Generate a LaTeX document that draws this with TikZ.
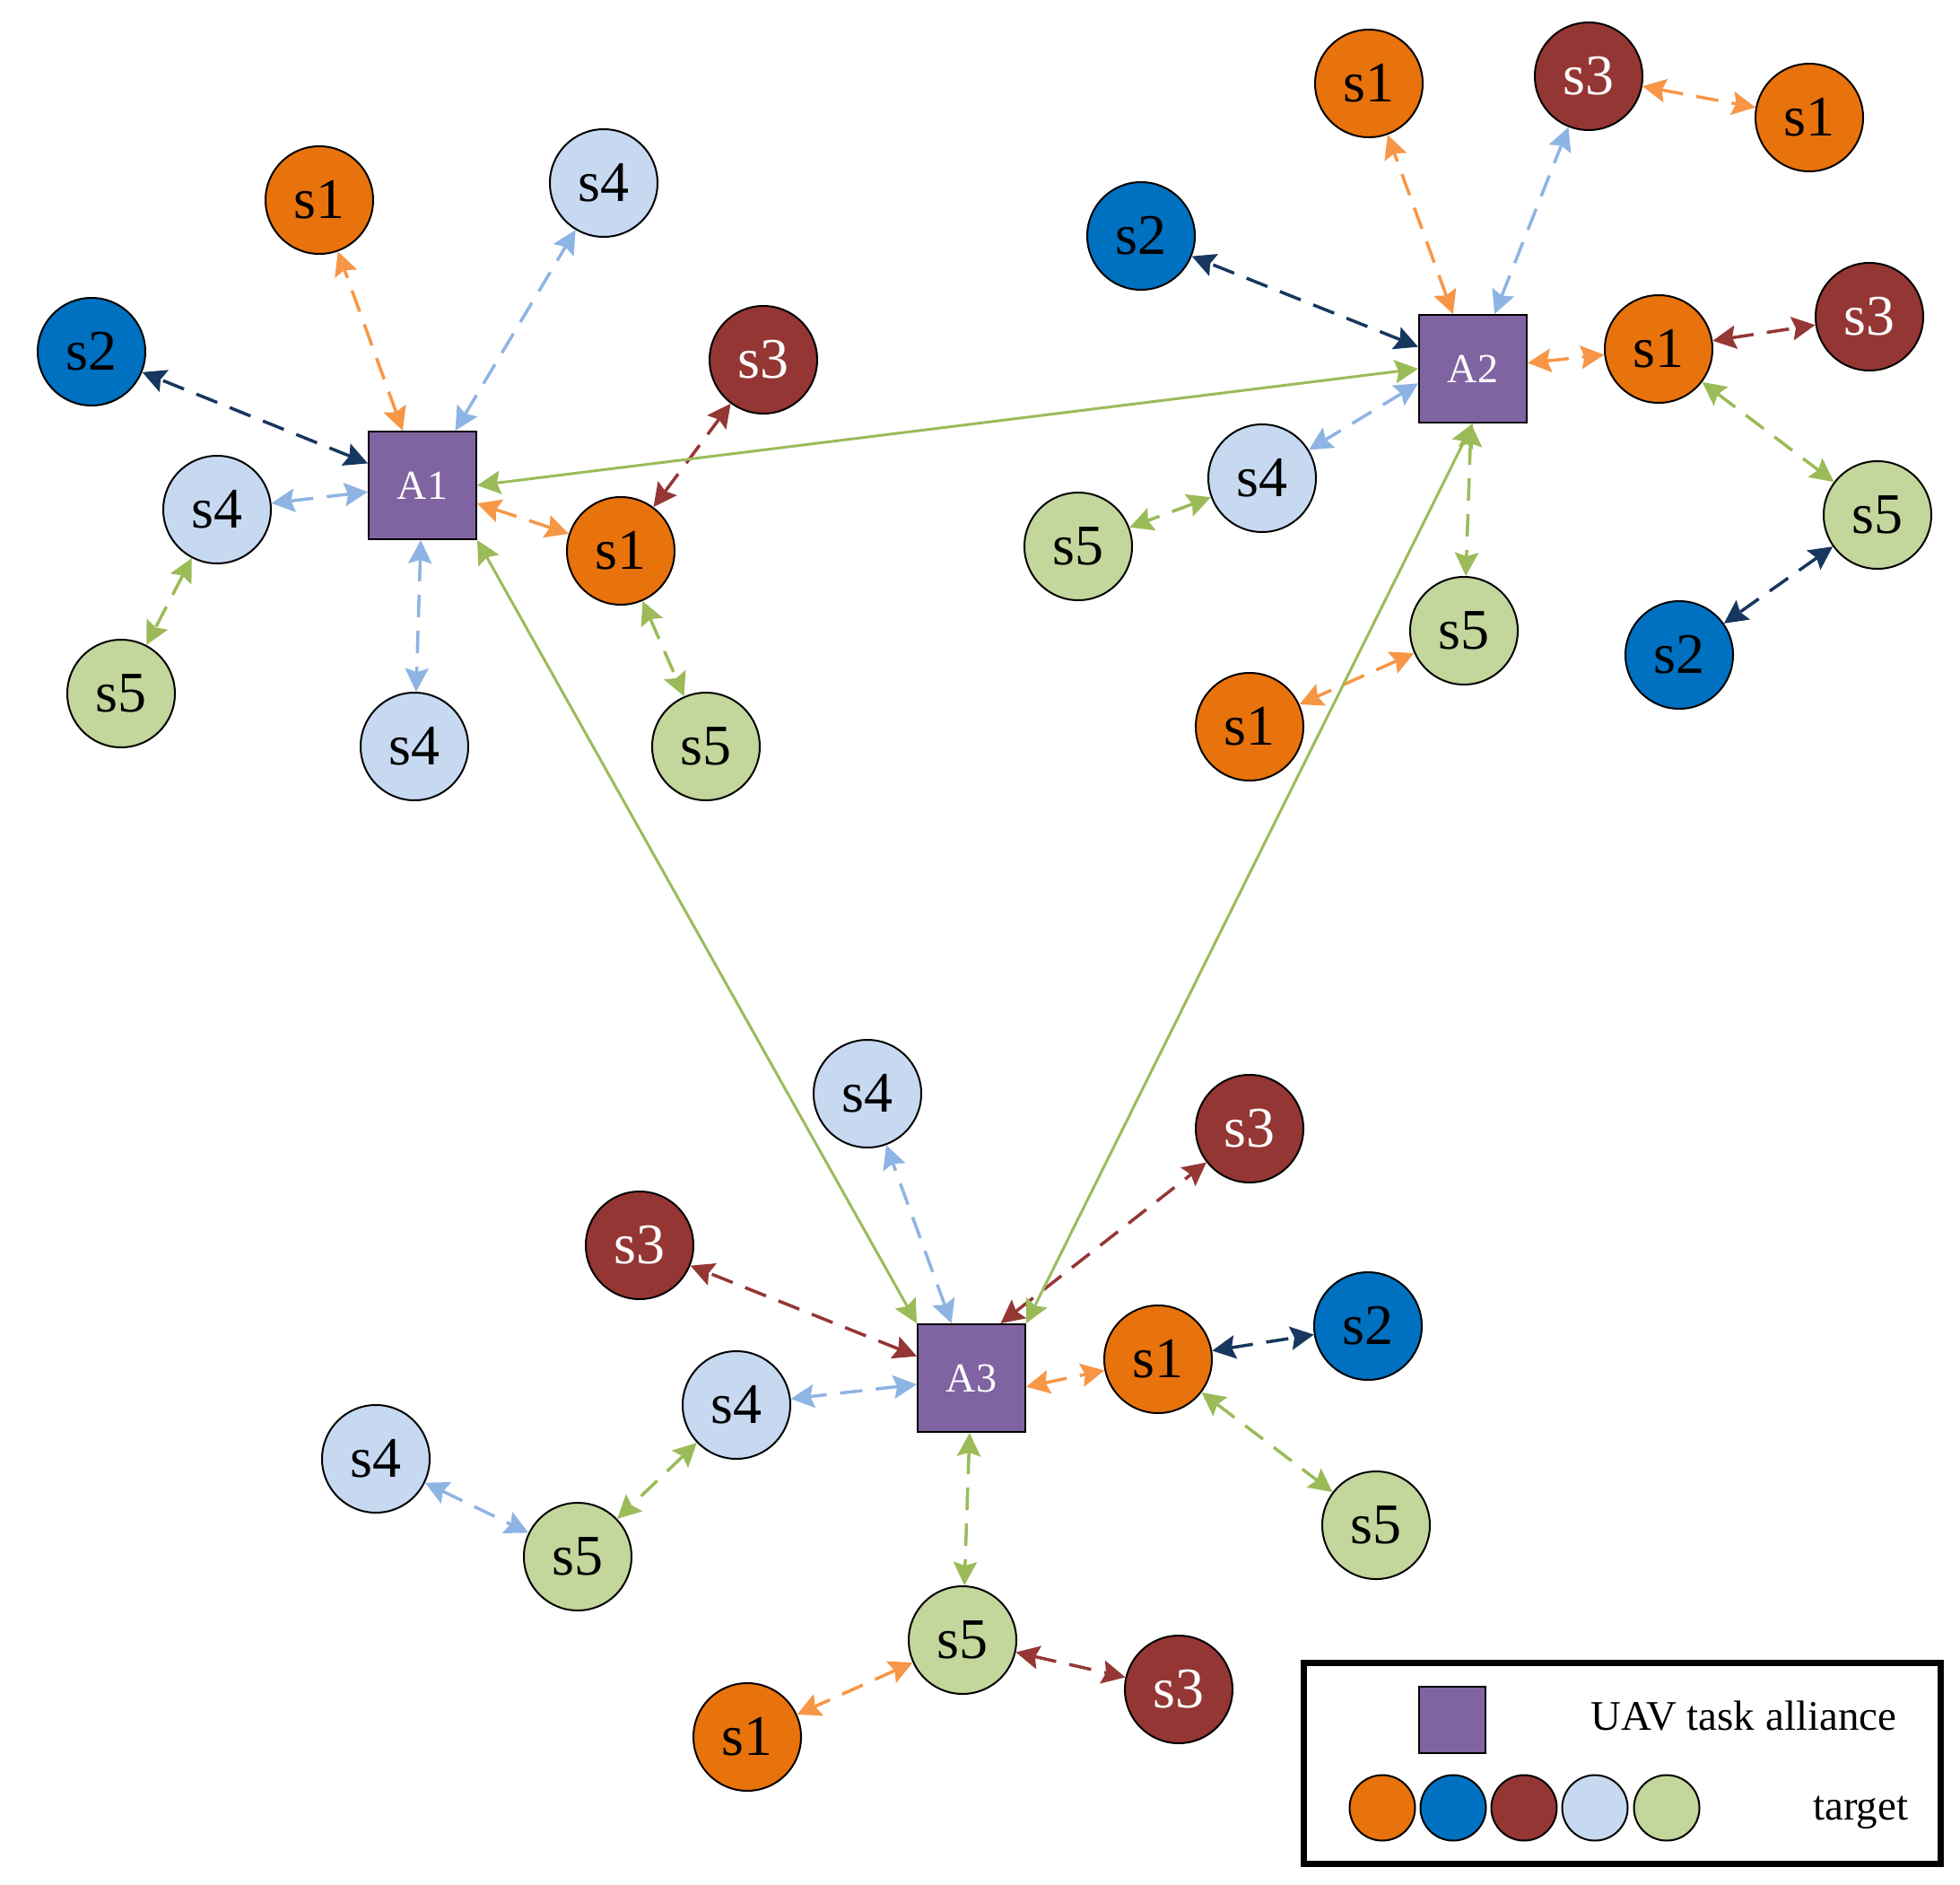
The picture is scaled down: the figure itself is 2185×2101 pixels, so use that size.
\documentclass[tikz,border=0pt]{standalone}
\usepackage{fontspec}
\setmainfont{Liberation Serif}
\usetikzlibrary{arrows.meta}
\definecolor{corange}{HTML}{E8720C}
\definecolor{cblue}{HTML}{0070C0}
\definecolor{cred}{HTML}{943634}
\definecolor{clblue}{HTML}{C6D9F1}
\definecolor{cgreen}{HTML}{C3D69B}
\definecolor{cpurple}{HTML}{8064A2}
\definecolor{eorange}{HTML}{F79646}
\definecolor{elblue}{HTML}{8EB4E3}
\definecolor{enavy}{HTML}{17375E}
\definecolor{egreen}{HTML}{9BBB59}
\definecolor{ered}{HTML}{953735}
\tikzset{
  tgt/.style={circle, draw=black, line width=2pt, minimum size=120pt, inner sep=0pt, font=\fontsize{64}{64}\selectfont},
  nor/.style={tgt, fill=corange},
  nbl/.style={tgt, fill=cblue},
  nrd/.style={tgt, fill=cred, text=white},
  nlb/.style={tgt, fill=clblue},
  ngr/.style={tgt, fill=cgreen},
  uav/.style={rectangle, draw=black, line width=2pt, fill=cpurple, minimum size=120pt, inner sep=0pt, text=white, font=\fontsize{46}{46}\selectfont},
  tipk/.tip={Stealth[length=26pt,width=26pt,inset=4pt]},
  lk/.style={line width=3.5pt, dash pattern=on 25pt off 15pt, tipk-tipk},
  lor/.style={lk, draw=eorange},
  llb/.style={lk, draw=elblue},
  lnv/.style={lk, draw=enavy},
  lgr/.style={lk, draw=egreen},
  lrd/.style={lk, draw=ered},
  link/.style={line width=3pt, draw=egreen, tipk-tipk},
  legc/.style={circle, draw=black, line width=2pt, minimum size=73pt, inner sep=0pt},
  legt/.style={anchor=base west, inner sep=0pt, font=\fontsize{47}{47}\selectfont},
}
\begin{document}
\begin{tikzpicture}[x=1pt,y=-1pt]
\useasboundingbox (0,0) rectangle (2185,2101);
% ---------- cluster A1
\node[uav] (A1) at (471,541) {A1};
\node[nor] (a1s1t) at (356,223) {s1};
\node[nlb] (a1s4t) at (673,204) {s4};
\node[nbl] (a1s2)  at (102,392) {s2};
\node[nrd] (a1s3)  at (851,401) {s3};
\node[nlb] (a1s4l) at (242,568) {s4};
\node[nor] (a1s1r) at (692,614) {s1};
\node[ngr] (a1s5l) at (135,773) {s5};
\node[nlb] (a1s4b) at (462,832) {s4};
\node[ngr] (a1s5)  at (787,832) {s5};
% ---------- cluster A2
\node[uav] (A2) at (1642,411) {A2};
\node[nor] (a2s1t)  at (1526,93)  {s1};
\node[nrd] (a2s3t)  at (1771,85)  {s3};
\node[nor] (a2s1fr) at (2017,131) {s1};
\node[nbl] (a2s2)   at (1272,263) {s2};
\node[nor] (a2s1r)  at (1849,389) {s1};
\node[nrd] (a2s3r)  at (2084,353) {s3};
\node[nlb] (a2s4)   at (1407,533) {s4};
\node[ngr] (a2s5l)  at (1202,609) {s5};
\node[ngr] (a2s5b)  at (1632,703) {s5};
\node[ngr] (a2s5r)  at (2093,574) {s5};
\node[nbl] (a2s2r)  at (1872,730) {s2};
\node[nor] (a2s1lo) at (1393,810) {s1};
% ---------- cluster A3
\node[uav] (A3) at (1083,1536) {A3};
\node[nlb] (a3s4t)  at (967,1219)  {s4};
\node[nrd] (a3s3rt) at (1393,1258) {s3};
\node[nrd] (a3s3l)  at (713,1388)  {s3};
\node[nor] (a3s1r)  at (1291,1515) {s1};
\node[nbl] (a3s2)   at (1525,1478) {s2};
\node[nlb] (a3s4)   at (821,1566)  {s4};
\node[nlb] (a3s4fl) at (419,1626)  {s4};
\node[ngr] (a3s5)   at (644,1735)  {s5};
\node[ngr] (a3s5r)  at (1534,1700) {s5};
\node[ngr] (a3s5b)  at (1073,1828) {s5};
\node[nrd] (a3s3b)  at (1314,1883) {s3};
\node[nor] (a3s1b)  at (833,1936)  {s1};
% ---------- links A1
\draw[lor] (A1) -- (a1s1t);
\draw[llb] (A1) -- (a1s4t);
\draw[lnv] (A1) -- (a1s2);
\draw[llb] (A1) -- (a1s4l);
\draw[lor] (A1) -- (a1s1r);
\draw[llb] (A1) -- (a1s4b);
\draw[lgr] (a1s4l) -- (a1s5l);
\draw[lrd] (a1s1r) -- (a1s3);
\draw[lgr] (a1s1r) -- (a1s5);
% ---------- links A2
\draw[lor] (A2) -- (a2s1t);
\draw[llb] (A2) -- (a2s3t);
\draw[lor] (a2s3t) -- (a2s1fr);
\draw[lnv] (A2) -- (a2s2);
\draw[lor] (A2) -- (a2s1r);
\draw[lrd] (a2s1r) -- (a2s3r);
\draw[llb] (A2.195) -- (a2s4);
\draw[lgr] (a2s4) -- (a2s5l);
\draw[lgr] (A2) -- (a2s5b);
\draw[lor] (a2s5b) -- (a2s1lo);
\draw[lgr] (a2s1r) -- (a2s5r);
\draw[lnv] (a2s5r) -- (a2s2r);
% ---------- links A3
\draw[llb] (A3) -- (a3s4t);
\draw[lrd] (A3.62) -- (a3s3rt);
\draw[lrd] (A3) -- (a3s3l);
\draw[lor] (A3.-9) -- (a3s1r);
\draw[lnv] (a3s1r) -- (a3s2);
\draw[llb] (A3) -- (a3s4);
\draw[lgr] (a3s4) -- (a3s5);
\draw[llb] (a3s4fl) -- (a3s5);
\draw[lgr] (a3s1r) -- (a3s5r);
\draw[lgr] (A3) -- (a3s5b);
\draw[lrd] (a3s5b) -- (a3s3b);
\draw[lor] (a3s5b) -- (a3s1b);
% ---------- alliance links
\draw[link] (A1.east) -- (A2.west);
\draw[link] (A1.south east) -- (A3.north west);
\draw[link] (A2.south) -- (A3.north east);
% ---------- legend
\node[draw=black, line width=7pt, minimum width=710pt, minimum height=224pt, inner sep=0pt] (leg) at (1808,1965) {};
\node[rectangle, draw=black, line width=2pt, fill=cpurple, minimum size=74pt, inner sep=0pt] (legA) at (1619,1917) {};
\node[legc, fill=corange] (lc1) at (1541,2015) {};
\node[legc, fill=cblue]   (lc2) at (1620,2015) {};
\node[legc, fill=cred]    (lc3) at (1699,2015) {};
\node[legc, fill=clblue]  (lc4) at (1778,2015) {};
\node[legc, fill=cgreen]  (lc5) at (1858,2015) {};
\node[legt] (legt1) at (1773,1928) {UAV task alliance};
\node[legt] (legt2) at (2021,2028) {target};
\end{tikzpicture}
\end{document}
